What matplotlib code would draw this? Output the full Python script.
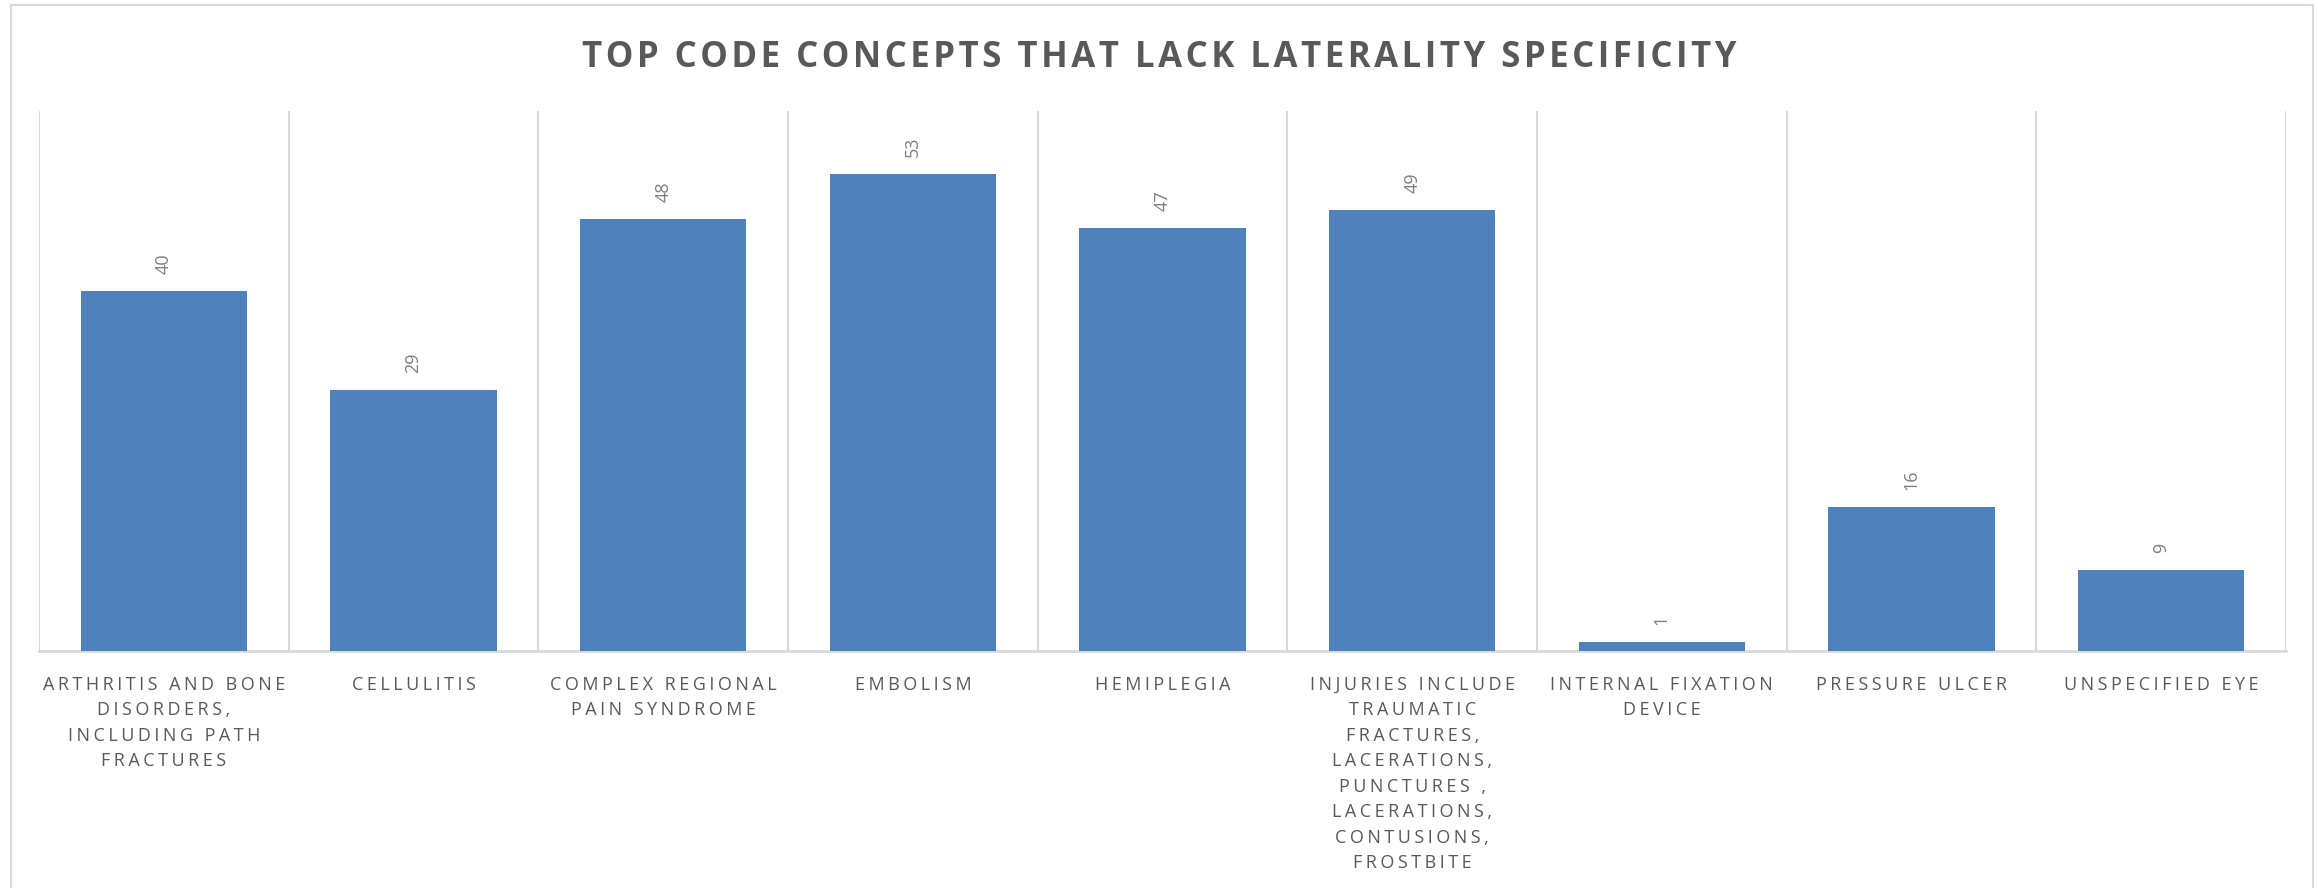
import matplotlib
matplotlib.use("Agg")
import matplotlib.pyplot as plt
from matplotlib.patches import Rectangle

categories = [
    "ARTHRITIS AND BONE\nDISORDERS,\nINCLUDING PATH\nFRACTURES",
    "CELLULITIS",
    "COMPLEX REGIONAL\nPAIN SYNDROME",
    "EMBOLISM",
    "HEMIPLEGIA",
    "INJURIES INCLUDE\nTRAUMATIC\nFRACTURES,\nLACERATIONS,\nPUNCTURES ,\nLACERATIONS,\nCONTUSIONS,\nFROSTBITE",
    "INTERNAL FIXATION\nDEVICE",
    "PRESSURE ULCER",
    "UNSPECIFIED EYE",
]
values = [40, 29, 48, 53, 47, 49, 1, 16, 9]
title = "TOP CODE CONCEPTS THAT LACK LATERALITY SPECIFICITY"

plt.rcParams['font.family'] = ['Open Sans', 'DejaVu Sans']

def spaced(s, sep="\u200a"):
    return "\n".join(sep.join(line) for line in s.split("\n"))

W, H = 2318, 888
fig = plt.figure(figsize=(W / 100, H / 100), dpi=100)
fig.patch.set_facecolor("white")

# outer chart border
fig.patches.append(Rectangle((11 / W, -0.1), (2313 - 11) / W, 1.1 - 5 / H,
                             transform=fig.transFigure, fill=False,
                             edgecolor="#d9d9d9", linewidth=1.5))

left, right, top, bottom = 39, 2286, 111, 651
ax = fig.add_axes([left / W, 1 - bottom / H, (right - left) / W, (bottom - top) / H])

x = list(range(len(values)))
bars = ax.bar(x, values, width=0.665, color="#4f81bd", zorder=3)
ax.set_xlim(-0.5, len(values) - 0.5)
ax.set_ylim(0, 60)

for b in [i - 0.5 for i in range(len(values) + 1)]:
    ax.axvline(b, color="#d9d9d9", linewidth=1.5, zorder=1)

for spine in ["top", "right", "left"]:
    ax.spines[spine].set_visible(False)
ax.spines["bottom"].set_color("#d9d9d9")
ax.spines["bottom"].set_linewidth(2)
ax.set_yticks([])
ax.set_xticks(x)
ax.set_xticklabels([spaced(c, "\u200a\u200a") for c in categories], fontsize=13,
                   color="#595959", linespacing=1.53, va="top")
ax.tick_params(axis="x", length=0, pad=18)

for xi, v in zip(x, values):
    ax.annotate(str(v), (xi, v), xytext=(0, 12), textcoords="offset points",
                rotation=90, ha="center", va="bottom", fontsize=13, color="#7f7f7f")

fig.text(0.5, 1 - 58 / H, spaced(title, "\u200a"), ha="center", va="center",
         fontsize=25, fontweight="bold", color="#595959")

fig.savefig("out.png", dpi=100)
